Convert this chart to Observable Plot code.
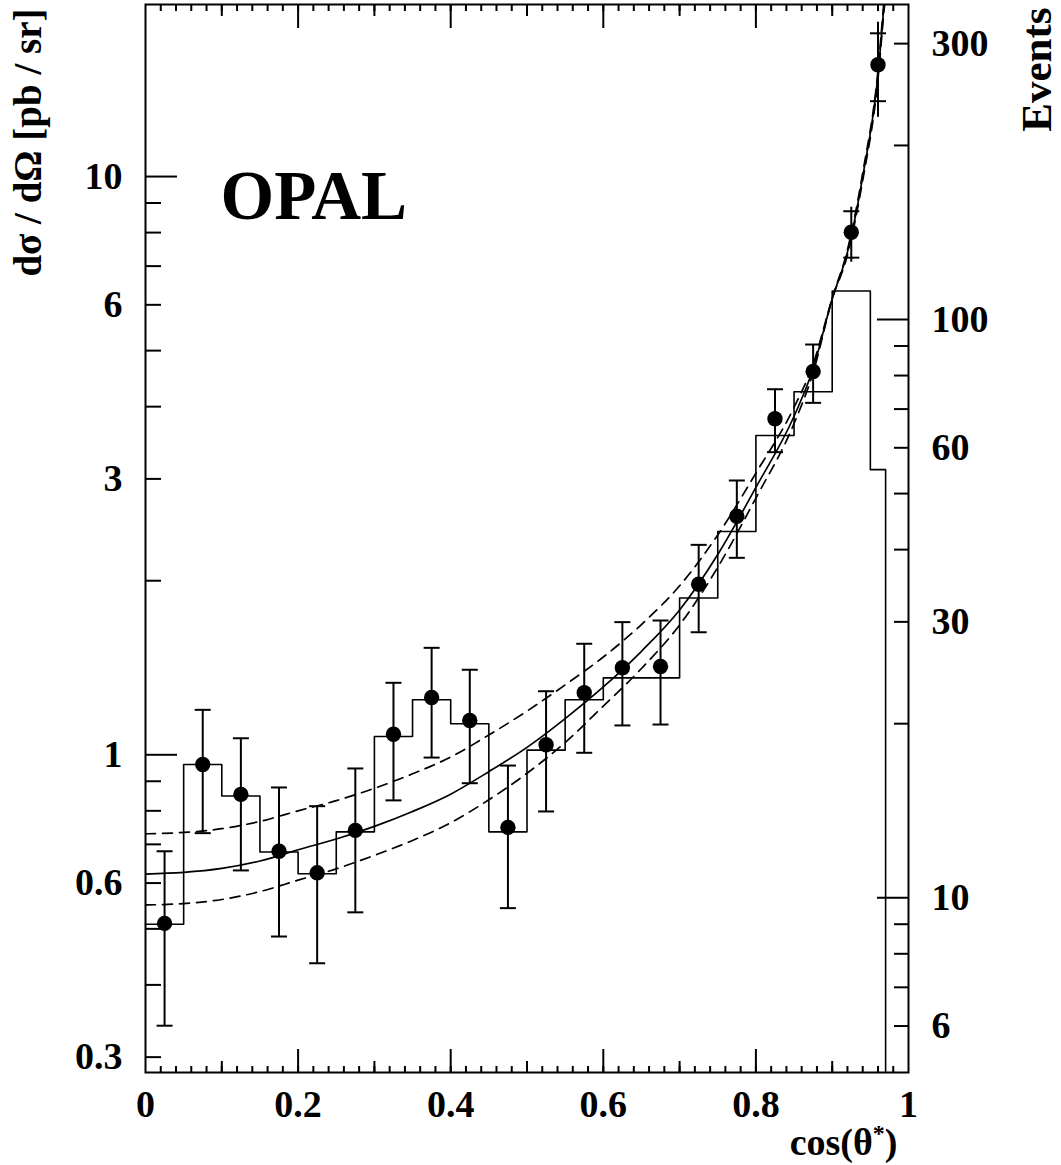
<!DOCTYPE html>
<html>
<head>
<meta charset="utf-8">
<script src="https://cdn.jsdelivr.net/npm/d3@7"></script>
<script src="https://cdn.jsdelivr.net/npm/@observablehq/plot@0.6"></script>
<style>
  html, body { margin: 0; padding: 0; background: #ffffff; }
</style>
</head>
<body>
<div id="chart"></div>
<script>
// ---------- data ----------
// histogram of raw events (right axis), bin lower edges; last bin is 0.95–0.97
const binEdges   = [0, 0.05, 0.1, 0.15, 0.2, 0.25, 0.3, 0.35, 0.4, 0.45, 0.5, 0.55, 0.6, 0.65, 0.7, 0.75, 0.8, 0.85, 0.9, 0.95, 0.97];
const histEvents = [9, 17, 15, 12, 11, 13, 19, 22, 20, 13, 18, 22, 24, 24, 33, 43, 63, 75, 112, 55];

// measured dσ/dΩ [pb/sr] points
const pointX   = [0.025, 0.075, 0.125, 0.175, 0.225, 0.275, 0.325, 0.375, 0.425, 0.475, 0.525, 0.575, 0.625, 0.675, 0.725, 0.775, 0.825, 0.875, 0.925, 0.96];
const pointY   = [0.511, 0.962, 0.854, 0.681, 0.625, 0.740, 1.085, 1.256, 1.146, 0.749, 1.041, 1.280, 1.414, 1.421, 1.972, 2.586, 3.811, 4.600, 8.01, 15.61];
const capLow   = [0.340, 0.732, 0.631, 0.485, 0.436, 0.534, 0.834, 0.989, 0.893, 0.543, 0.798, 1.008, 1.124, 1.128, 1.629, 2.191, 3.337, 4.061, 7.24, 13.50];
const capHigh  = [0.681, 1.196, 1.068, 0.878, 0.815, 0.947, 1.332, 1.531, 1.403, 0.958, 1.288, 1.556, 1.696, 1.707, 2.307, 2.981, 4.287, 5.123, 8.71, 17.69];
const barLow   = [0.340, 0.732, 0.631, 0.485, 0.436, 0.534, 0.834, 0.989, 0.893, 0.543, 0.798, 1.008, 1.124, 1.128, 1.629, 2.191, 3.337, 4.061, 7.11, 12.66];
const barHigh  = [0.681, 1.196, 1.068, 0.878, 0.815, 0.947, 1.332, 1.531, 1.403, 0.958, 1.288, 1.556, 1.696, 1.707, 2.307, 2.981, 4.287, 5.123, 8.85, 18.49];

// fitted curves (solid = central, dashed = band)
const curveX     = [0, 0.05, 0.1, 0.15, 0.2, 0.25, 0.3, 0.35, 0.4, 0.45, 0.5, 0.55, 0.6, 0.65, 0.7, 0.75, 0.8, 0.85, 0.875, 0.9, 0.92, 0.94, 0.96, 0.968, 0.975];
const fitCentral = [0.622, 0.626, 0.636, 0.655, 0.685, 0.715, 0.752, 0.798, 0.855, 0.935, 1.03, 1.155, 1.31, 1.51, 1.78, 2.22, 2.9, 3.85, 4.65, 6.15, 7.4, 10.0, 15.0, 19.8, 24.5];
const fitUpper   = [0.730, 0.734, 0.745, 0.767, 0.800, 0.833, 0.875, 0.927, 0.991, 1.082, 1.19, 1.321, 1.476, 1.68, 1.96, 2.40, 3.07, 3.99, 4.74, 6.15, 7.32, 9.85, 14.75, 19.4, 24.0];
const fitLower   = [0.550, 0.553, 0.562, 0.580, 0.607, 0.635, 0.670, 0.711, 0.763, 0.836, 0.929, 1.05, 1.214, 1.41, 1.677, 2.11, 2.78, 3.74, 4.58, 6.15, 7.47, 10.15, 15.25, 20.2, 25.0];

// axes
const yDomain = [0.2822, 19.84];            // pb/sr
const eventsPerPb = 17.67;                  // right axis: Events = 17.67 × dσ/dΩ
const leftLabelTicks  = [0.3, 0.6, 1, 3, 6, 10];
const leftMajorTicks  = [1, 10];
const leftMinorTicks  = [0.3, 0.4, 0.5, 0.6, 0.7, 0.8, 0.9, 2, 3, 4, 5, 6, 7, 8, 9];
const rightLabelTicks = [6, 10, 30, 60, 100, 300];
const rightMajorTicks = [10, 100];
const rightMinorTicks = [6, 7, 8, 9, 20, 30, 40, 50, 60, 70, 80, 90, 200, 300];
const xLabelTicks  = [0, 0.2, 0.4, 0.6, 0.8, 1];
const xMajorTicks  = [0.2, 0.4, 0.6, 0.8];
const xMediumTicks = [0.1, 0.3, 0.5, 0.7, 0.9];
const xMinorTicks  = d3.range(1, 50).map(i => i * 0.02);

const yTitle = "dσ / dΩ [pb / sr]";
const xTitle = "cos(θ*)";

// ---------- build tables ----------
const points = pointX.map((x, i) => ({x, y: pointY[i], cl: capLow[i], ch: capHigh[i], bl: barLow[i], bh: barHigh[i]}));
const hist = binEdges.slice(0, histEvents.length).map((x, i) => ({x, y: histEvents[i] / eventsPerPb}));
hist.push({x: binEdges[binEdges.length - 1], y: yDomain[0]});
const curves = curveX.map((x, i) => ({x, c: fitCentral[i], u: fitUpper[i], l: fitLower[i]}));

const capSymbol = { draw(ctx) { ctx.moveTo(-8, 0); ctx.lineTo(8, 0); } };
const toEv = v => v / eventsPerPb;
const fmt = d => String(+d.toFixed(3));

const chart = Plot.plot({
  width: 1061,
  height: 1165,
  marginLeft: 145,
  marginRight: 153,
  marginTop: 4,
  marginBottom: 93,
  style: { fontFamily: '"Liberation Serif", "Times New Roman", serif', fontWeight: "bold", fontSize: "38px", background: "#ffffff", color: "#000" },
  x: { domain: [0, 1] },
  y: { type: "log", domain: yDomain },
  marks: [
    // histogram
    Plot.line(hist, {x: "x", y: "y", curve: "step-after", stroke: "black", strokeWidth: 1.6}),
    // fits
    Plot.line(curves, {x: "x", y: "c", curve: "monotone-x", stroke: "black", strokeWidth: 1.7, clip: true}),
    Plot.line(curves, {x: "x", y: "u", curve: "monotone-x", stroke: "black", strokeWidth: 1.7, strokeDasharray: "10,7", clip: true}),
    Plot.line(curves, {x: "x", y: "l", curve: "monotone-x", stroke: "black", strokeWidth: 1.7, strokeDasharray: "10,7", clip: true}),
    // error bars
    Plot.ruleX(points, {x: "x", y1: "bl", y2: "bh", stroke: "black", strokeWidth: 2}),
    Plot.dot(points, {x: "x", y: "cl", symbol: capSymbol, stroke: "black", fill: "none", strokeWidth: 2}),
    Plot.dot(points, {x: "x", y: "ch", symbol: capSymbol, stroke: "black", fill: "none", strokeWidth: 2}),
    Plot.dot(points, {x: "x", y: "y", r: 7.7, fill: "black", stroke: "none"}),
    // frame
    Plot.frame({stroke: "black", strokeWidth: 2}),
    // left axis ticks (inward)
    Plot.axisY(leftMajorTicks, {anchor: "left", tickSize: 32, dx: 32, fill: "none", label: null, strokeWidth: 2}),
    Plot.axisY(leftMinorTicks, {anchor: "left", tickSize: 16, dx: 16, fill: "none", label: null, strokeWidth: 2}),
    Plot.axisY(leftLabelTicks, {anchor: "left", tickSize: 0, tickPadding: 23, tickFormat: fmt, label: null}),
    // right axis (Events)
    Plot.axisY(rightMajorTicks.map(toEv), {anchor: "right", tickSize: 32, dx: -32, fill: "none", label: null, strokeWidth: 2}),
    Plot.axisY(rightMinorTicks.map(toEv), {anchor: "right", tickSize: 15, dx: -15, fill: "none", label: null, strokeWidth: 2}),
    Plot.axisY(rightLabelTicks.map(toEv), {anchor: "right", tickSize: 0, tickPadding: 23, tickFormat: d => String(Math.round(d * eventsPerPb)), label: null}),
    // x axis ticks (bottom and top, inward)
    Plot.axisX(xMajorTicks, {anchor: "bottom", tickSize: 23, dy: -23, fill: "none", label: null, strokeWidth: 2}),
    Plot.axisX(xMediumTicks, {anchor: "bottom", tickSize: 11, dy: -11, fill: "none", label: null, strokeWidth: 2}),
    Plot.axisX(xMinorTicks, {anchor: "bottom", tickSize: 6, dy: -6, fill: "none", label: null, strokeWidth: 2}),
    Plot.axisX(xMajorTicks, {anchor: "top", tickSize: 23, dy: 23, fill: "none", label: null, strokeWidth: 2}),
    Plot.axisX(xMediumTicks, {anchor: "top", tickSize: 11, dy: 11, fill: "none", label: null, strokeWidth: 2}),
    Plot.axisX(xMinorTicks, {anchor: "top", tickSize: 6, dy: 6, fill: "none", label: null, strokeWidth: 2}),
    Plot.axisX(xLabelTicks, {anchor: "bottom", tickSize: 0, tickPadding: 18, tickFormat: fmt, label: null}),
    // titles
    Plot.text([yTitle], {text: d => d, frameAnchor: "top-left", rotate: -90, textAnchor: "end", lineAnchor: "bottom", dx: -105, dy: 4, fontSize: 39}),
    Plot.text(["Events"], {text: d => d, frameAnchor: "top-right", rotate: -90, textAnchor: "end", lineAnchor: "bottom", dx: 142, dy: 3, fontSize: 43}),
    Plot.text(["OPAL"], {text: d => d, frameAnchor: "top-left", textAnchor: "start", lineAnchor: "bottom", dx: 75, dy: 214, fontSize: 69}),
    Plot.text([xTitle], {text: d => d, frameAnchor: "bottom-right", textAnchor: "end", lineAnchor: "bottom", dx: -11, dy: 82, fontSize: 38})
  ]
});

document.getElementById("chart").appendChild(chart);

// superscript asterisk in the x title; keep spacing in the y title
d3.select(chart).selectAll("text").each(function () {
  const t = d3.select(this);
  const s = this.textContent;
  if (s === xTitle) {
    t.text(null);
    t.append("tspan").text("cos(θ");
    t.append("tspan").attr("dy", -14).attr("font-size", 24).text("*");
    t.append("tspan").attr("dy", 14).text(")");
  } else if (s === yTitle) {
    t.style("white-space", "pre");
  }
});
</script>
</body>
</html>
